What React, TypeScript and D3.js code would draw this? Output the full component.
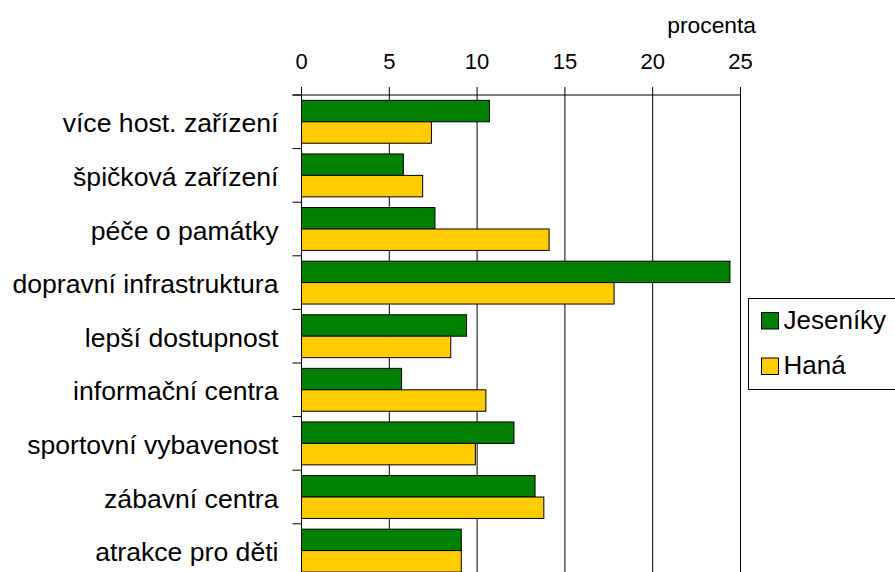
import React from "react";
import * as d3 from "d3";

const categories = [
  "více host. zařízení",
  "špičková zařízení",
  "péče o památky",
  "dopravní infrastruktura",
  "lepší dostupnost",
  "informační centra",
  "sportovní vybavenost",
  "zábavní centra",
  "atrakce pro děti",
];
const seriesNames = ["Jeseníky", "Haná"];
const jeseniky = [10.7, 5.8, 7.6, 24.4, 9.4, 5.7, 12.1, 13.3, 9.1];
const hana = [7.4, 6.9, 14.1, 17.8, 8.5, 10.5, 9.9, 13.8, 9.1];
const xTicks = [0, 5, 10, 15, 20, 25];
const colors = ["#008000", "#FFCC00"];
const axisTitle = "procenta";

const W = 895;
const H = 572;
const FONT = "Arial, 'Liberation Sans', sans-serif";

export default function App() {
  const x = d3.scaleLinear().domain([0, 25]).range([301.5, 740.5]);
  const y = d3
    .scaleBand<string>()
    .domain(categories)
    .range([95, 577.4])
    .paddingInner(0.2)
    .paddingOuter(0.1);
  const ySub = d3
    .scaleBand<string>()
    .domain(seriesNames)
    .range([0, y.bandwidth()]);
  const step = y.step();
  const top = 95;
  const bottom = 577.4;
  const values = [jeseniky, hana];
  const boundaries = d3.range(categories.length + 1).map((i) => top + i * step);

  return (
    <svg
      width={W}
      height={H}
      style={{ position: "absolute", left: 0, top: 0, background: "#fff" }}
      fontFamily={FONT}
    >
      <rect x={0} y={0} width={W} height={H} fill="#fff" />
      {xTicks.slice(1).map((t) => (
        <line key={"g" + t} x1={x(t)} x2={x(t)} y1={top} y2={bottom} stroke="#000" strokeWidth={1} />
      ))}
      {categories.map((c, i) =>
        seriesNames.map((s, j) => (
          <rect
            key={c + s}
            x={x(0)}
            y={(y(c) as number) + (ySub(s) as number)}
            width={x(values[j][i]) - x(0)}
            height={ySub.bandwidth()}
            fill={colors[j]}
            stroke="#000"
            strokeWidth={1}
          />
        ))
      )}
      <line x1={292.5} x2={x(25)} y1={top} y2={top} stroke="#000" />
      <line x1={x(0)} x2={x(0)} y1={top} y2={bottom} stroke="#000" />
      {xTicks.map((t) => (
        <g key={"t" + t}>
          <line x1={x(t)} x2={x(t)} y1={87} y2={top} stroke="#000" />
          <text x={x(t)} y={69} textAnchor="middle" fontSize={22} fill="#000">
            {t}
          </text>
        </g>
      ))}
      {boundaries.map((b, i) => (
        <line key={"b" + i} x1={292.5} x2={x(0)} y1={b} y2={b} stroke="#000" />
      ))}
      <text x={756} y={33} textAnchor="end" fontSize={22.8} fill="#000">
        {axisTitle}
      </text>
      {categories.map((c) => (
        <text
          key={"l" + c}
          x={278.5}
          y={(y(c) as number) - step * 0.1 + step / 2 + 10.5}
          textAnchor="end"
          fontSize={26.6}
          fill="#000"
        >
          {c}
        </text>
      ))}
      <rect x={748.5} y={298.5} width={200} height={91} fill="#fff" stroke="#000" />
      {seriesNames.map((s, j) => (
        <g key={"lg" + s} transform={`translate(0, ${j * 45.5})`}>
          <rect x={761.5} y={312.5} width={17} height={16.5} fill={colors[j]} stroke="#000" />
          <text x={783.5} y={328.5} fontSize={26} fill="#000">
            {s}
          </text>
        </g>
      ))}
    </svg>
  );
}
